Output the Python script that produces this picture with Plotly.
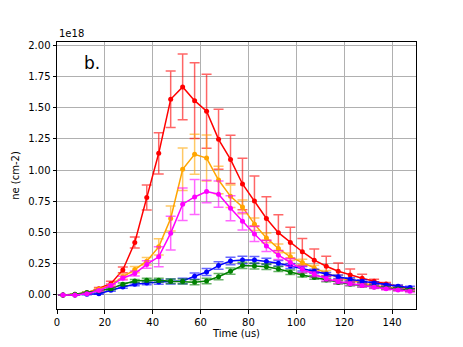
import plotly.graph_objects as go

time_us = [2.5, 7.5, 12.5, 17.5, 22.5, 27.5, 32.5, 37.5, 42.5, 47.5,
           52.5, 57.5, 62.5, 67.5, 72.5, 77.5, 82.5, 87.5, 92.5, 97.5,
           102.5, 107.5, 112.5, 117.5, 122.5, 127.5, 132.5, 137.5, 142.5, 147.5]

# ne values in units of 1e18 cm-2
red = [0.0, 0.0, 0.015, 0.05, 0.09, 0.2, 0.42, 0.78, 1.135, 1.568,
       1.667, 1.557, 1.472, 1.247, 1.086, 0.889, 0.753, 0.612, 0.499, 0.419,
       0.346, 0.278, 0.23, 0.19, 0.16, 0.134, 0.11, 0.088, 0.067, 0.048]
red_err = [0.0, 0.0, 0.005, 0.01, 0.02, 0.023, 0.045, 0.1, 0.165, 0.227,
           0.264, 0.303, 0.296, 0.24, 0.194, 0.206, 0.2, 0.174, 0.144, 0.123,
           0.107, 0.09, 0.08, 0.066, 0.048, 0.032, 0.016, 0.011, 0.008, 0.005]

orange = [0.0, 0.005, 0.02, 0.045, 0.078, 0.145, 0.203, 0.27, 0.385, 0.612,
          1.007, 1.127, 1.097, 0.921, 0.79, 0.705, 0.567, 0.457, 0.372, 0.305,
          0.26, 0.215, 0.175, 0.14, 0.115, 0.095, 0.075, 0.06, 0.05, 0.04]
orange_err = [0.0, 0.0, 0.003, 0.006, 0.01, 0.02, 0.025, 0.03, 0.065, 0.1,
              0.17, 0.16, 0.185, 0.11, 0.09, 0.055, 0.05, 0.04, 0.035, 0.03,
              0.025, 0.022, 0.02, 0.018, 0.015, 0.013, 0.012, 0.01, 0.01, 0.01]

magenta = [0.0, 0.0, 0.01, 0.035, 0.075, 0.134, 0.171, 0.244, 0.305, 0.495,
           0.727, 0.785, 0.829, 0.807, 0.695, 0.59, 0.488, 0.392, 0.318, 0.26,
           0.205, 0.165, 0.13, 0.107, 0.09, 0.075, 0.062, 0.05, 0.04, 0.03]
magenta_err = [0.0, 0.0, 0.003, 0.005, 0.01, 0.015, 0.02, 0.03, 0.08, 0.135,
               0.13, 0.14, 0.09, 0.105, 0.1, 0.07, 0.06, 0.045, 0.035, 0.03,
               0.025, 0.02, 0.018, 0.016, 0.014, 0.012, 0.01, 0.01, 0.01, 0.01]

blue = [0.0, 0.0, 0.005, 0.01, 0.038, 0.064, 0.086, 0.096, 0.104, 0.107,
        0.112, 0.15, 0.183, 0.235, 0.271, 0.28, 0.279, 0.268, 0.254, 0.232,
        0.21, 0.19, 0.165, 0.145, 0.125, 0.11, 0.095, 0.08, 0.07, 0.06]
blue_err = [0.0, 0.0, 0.003, 0.005, 0.008, 0.01, 0.012, 0.015, 0.018, 0.02,
            0.022, 0.025, 0.028, 0.03, 0.03, 0.03, 0.028, 0.025, 0.022, 0.02,
            0.018, 0.016, 0.015, 0.014, 0.013, 0.012, 0.011, 0.01, 0.01, 0.01]

green = [0.0, 0.005, 0.019, 0.032, 0.05, 0.086, 0.112, 0.118, 0.118, 0.11,
         0.107, 0.102, 0.112, 0.146, 0.19, 0.236, 0.232, 0.226, 0.207, 0.182,
         0.16, 0.14, 0.12, 0.1, 0.085, 0.075, 0.063, 0.055, 0.047, 0.04]
green_err = [0.0, 0.0, 0.003, 0.005, 0.008, 0.01, 0.012, 0.015, 0.016, 0.018,
             0.02, 0.02, 0.022, 0.025, 0.025, 0.025, 0.024, 0.022, 0.02, 0.018,
             0.016, 0.015, 0.014, 0.013, 0.012, 0.011, 0.01, 0.01, 0.01, 0.01]

series = [
    (red, red_err, "#ff0000", "rgba(255,0,0,0.6)"),
    (orange, orange_err, "#ffa500", "rgba(255,165,0,0.6)"),
    (blue, blue_err, "#0000ff", "rgba(0,0,255,0.6)"),
    (green, green_err, "#008000", "rgba(0,128,0,0.6)"),
    (magenta, magenta_err, "#ff00ff", "rgba(255,0,255,0.6)"),
]

fig = go.Figure()
for vals, errs, col, errcol in series:
    fig.add_trace(go.Scatter(
        x=time_us, y=vals, mode="lines+markers",
        line=dict(color=col, width=1.5),
        marker=dict(color=col, size=5),
        error_y=dict(type="data", array=errs, visible=True,
                     color=errcol, thickness=1.5, width=5),
        showlegend=False,
    ))

font = "DejaVu Sans"
fig.add_annotation(x=0, y=1, xref="paper", yref="paper", text="1e18",
                   showarrow=False, xanchor="left", yanchor="bottom",
                   yshift=1, font=dict(family=font, size=10, color="black"))
fig.add_annotation(x=0.07, y=0.92, xref="paper", yref="paper", text="b.",
                   showarrow=False, xanchor="left", yanchor="middle",
                   font=dict(family=font, size=17, color="black"))

# page body has an 8px default margin, so the figure is a bit smaller
fig.update_layout(
    width=455, height=339,
    margin=dict(l=49, r=47, t=34, b=38),
    paper_bgcolor="white", plot_bgcolor="white",
    font=dict(family=font, size=10, color="black"),
    xaxis=dict(range=[0, 150], tickvals=[0, 20, 40, 60, 80, 100, 120, 140],
               automargin=False,
               showgrid=True, gridcolor="#b0b0b0", gridwidth=1,
               showline=True, linecolor="black", linewidth=1, mirror=True,
               ticks="outside", ticklen=3.5, tickcolor="black", zeroline=False,
               title=dict(text="Time (us)", standoff=0, font=dict(size=10))),
    yaxis=dict(range=[-0.113, 2.027], tickvals=[0, 0.25, 0.5, 0.75, 1.0, 1.25, 1.5, 1.75, 2.0],
               tickformat=".2f", automargin=False,
               showgrid=True, gridcolor="#b0b0b0", gridwidth=1,
               showline=True, linecolor="black", linewidth=1, mirror=True,
               ticks="outside", ticklen=3.5, tickcolor="black", zeroline=False,
               title=dict(text="ne (cm-2)", standoff=6, font=dict(size=10))),
)

fig.write_html("out.html")
